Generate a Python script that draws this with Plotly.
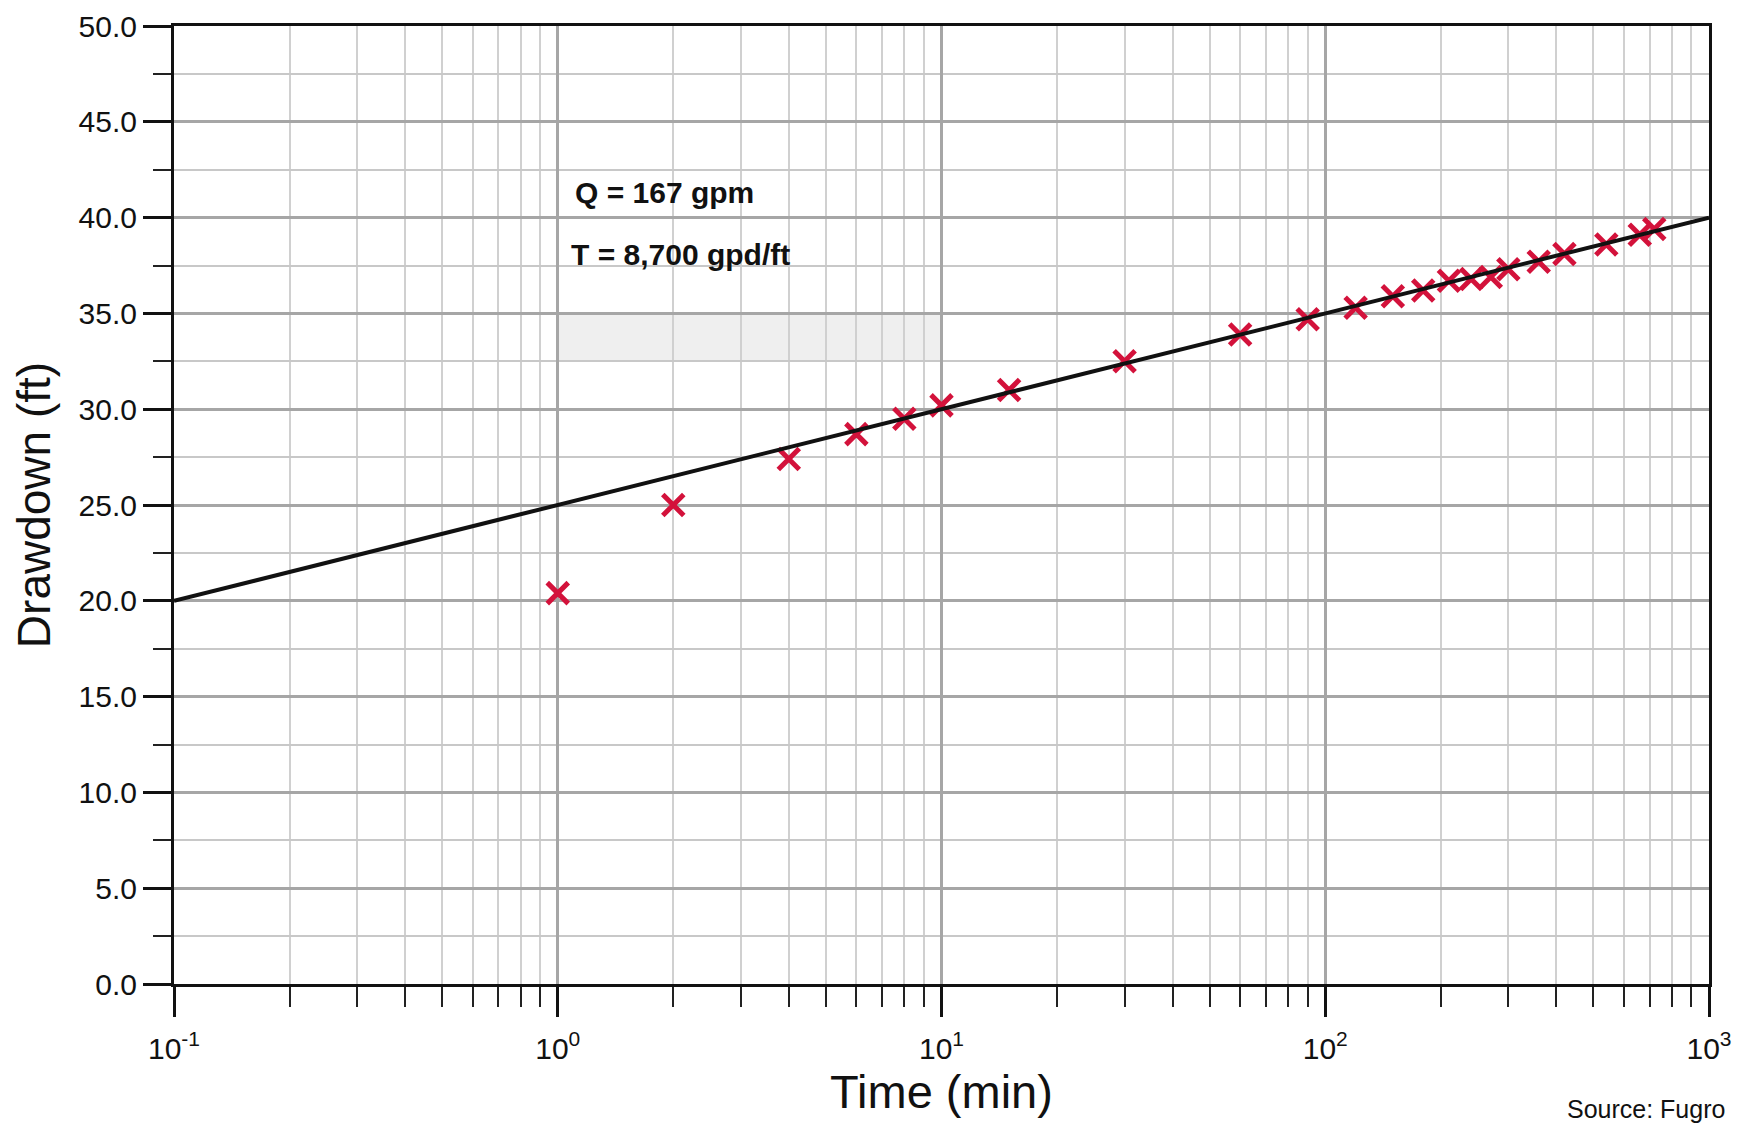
import plotly.graph_objects as go

# Observed drawdown data
time_min = [1, 2, 4, 6, 8, 10, 15, 30, 60, 90, 120, 150, 180, 210, 240, 270, 300, 360, 420, 540, 660, 720]
drawdown_ft = [20.4, 25.0, 27.4, 28.7, 29.5, 30.2, 31.0, 32.5, 33.9, 34.7, 35.3, 35.9, 36.2, 36.7,
               36.8, 36.9, 37.3, 37.7, 38.1, 38.6, 39.1, 39.4]

# Straight-line (Cooper-Jacob) fit
fit_time = [0.1, 1000]
fit_drawdown = [20.0, 40.0]

# Faint shaded band visible in the scan
band_time = [1, 10]
band_drawdown = [32.5, 35.0]

# X tick labels
x_tickvals = [0.1, 1, 10, 100, 1000]
x_ticktext = ["10<sup>-1</sup>", "10<sup>0</sup>", "10<sup>1</sup>", "10<sup>2</sup>", "10<sup>3</sup>"]

annotations_text = ["Q = 167 gpm", "T = 8,700 gpd/ft"]

FONT = "Liberation Sans, Arial, sans-serif"

fig = go.Figure()

fig.add_trace(go.Scatter(
    x=time_min, y=drawdown_ft, mode="markers",
    marker=dict(symbol="x-thin", size=21, line=dict(width=5, color="#d3123b"), color="#d3123b"),
    showlegend=False,
))
fig.add_trace(go.Scatter(
    x=fit_time, y=fit_drawdown, mode="lines",
    line=dict(color="#111111", width=4),
    showlegend=False,
))

fig.add_shape(type="rect", xref="x", yref="y",
              x0=band_time[0], x1=band_time[1], y0=band_drawdown[0], y1=band_drawdown[1],
              fillcolor="#efefef", line=dict(width=0), layer="below")

fig.add_annotation(x=0.04, y=41.3, xref="x", yref="y", text="<b>%s</b>" % annotations_text[0],
                   showarrow=False, xanchor="left", yanchor="middle",
                   font=dict(family=FONT, size=30, color="#111111"))
fig.add_annotation(x=0.03, y=38.1, xref="x", yref="y", text="<b>%s</b>" % annotations_text[1],
                   showarrow=False, xanchor="left", yanchor="middle",
                   font=dict(family=FONT, size=30, color="#111111"))

fig.add_annotation(x=1.012, y=-0.131, xref="paper", yref="paper", text="Source: Fugro",
                   showarrow=False, xanchor="right", yanchor="middle",
                   font=dict(family=FONT, size=25, color="#111111"))

fig.update_xaxes(
    type="log", range=[-1, 3], automargin=False,
    title=dict(text="Time (min)", font=dict(family=FONT, size=47, color="#111111"), standoff=4),
    tickvals=x_tickvals, ticktext=x_ticktext,
    ticks="outside", ticklen=30, tickwidth=3, tickcolor="#111111",
    tickfont=dict(family=FONT, size=30, color="#111111"),
    ticklabelstandoff=6, ticklabeloverflow="allow",
    showline=True, linewidth=3, linecolor="#111111", mirror=True,
    showgrid=True, gridcolor="#a6a6a6", gridwidth=2.5,
    zeroline=False,
    minor=dict(dtick="D1", ticks="outside", ticklen=20, tickwidth=2, tickcolor="#222222",
               showgrid=True, gridcolor="#d0d0d0", gridwidth=1.5),
)
fig.update_yaxes(
    range=[0, 50], dtick=5, tickformat=".1f", automargin=False,
    title=dict(text="Drawdown (ft)", font=dict(family=FONT, size=46, color="#111111"), standoff=14),
    ticks="outside", ticklen=28, tickwidth=3, tickcolor="#111111",
    tickfont=dict(family=FONT, size=30, color="#111111"),
    ticklabeloverflow="allow",
    showline=True, linewidth=3, linecolor="#111111", mirror=True,
    showgrid=True, gridcolor="#a6a6a6", gridwidth=2.5,
    zeroline=False,
    minor=dict(dtick=2.5, ticks="outside", ticklen=18, tickwidth=2, tickcolor="#222222",
               showgrid=True, gridcolor="#c8c8c8", gridwidth=1.5),
)

fig.update_layout(
    width=1732, height=1120,
    margin=dict(l=166, r=31, t=18, b=144),
    paper_bgcolor="white", plot_bgcolor="white",
    font=dict(family=FONT, color="#111111"),
)

fig.write_html("out.html")
